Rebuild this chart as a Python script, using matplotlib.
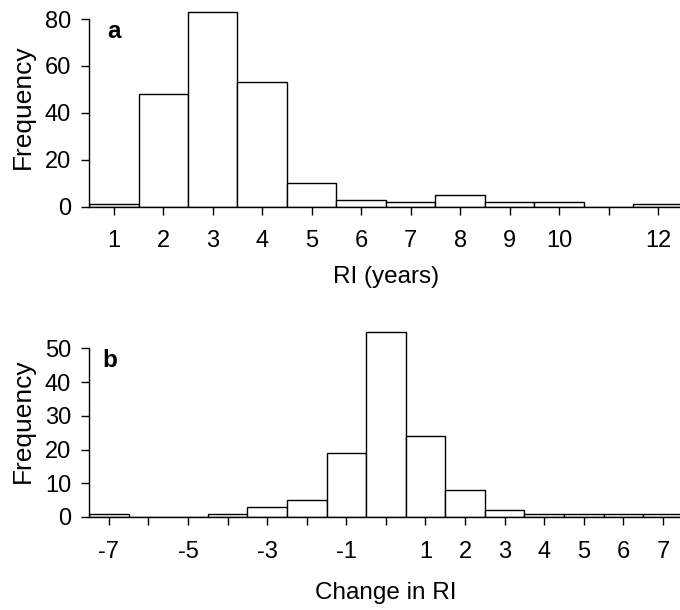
import numpy as np
import matplotlib
matplotlib.use("Agg")
import matplotlib.pyplot as plt

plt.rcParams['font.family'] = ['Liberation Sans', 'DejaVu Sans']

# panel a: recurrence interval histogram
ri_bins = [1, 2, 3, 4, 5, 6, 7, 8, 9, 10, 11, 12]
ri_freq = [1, 48, 83, 53, 10, 3, 2, 5, 2, 2, 0, 1]
ri_ticklabels = ["1", "2", "3", "4", "5", "6", "7", "8", "9", "10", "", "12"]

# panel b: change in RI histogram
chg_bins = [-7, -6, -5, -4, -3, -2, -1, 0, 1, 2, 3, 4, 5, 6, 7]
chg_freq = [1, 0, 0, 1, 3, 5, 19, 55, 24, 8, 2, 1, 1, 1, 1]
chg_ticklabels = ["-7", "", "-5", "", "-3", "", "-1", "", "1", "2", "3", "4", "5", "6", "7"]

FS = 17

fig = plt.figure(figsize=(6.8, 6.1), dpi=100, facecolor='white')
ax1 = fig.add_axes([0.131, 0.661, 0.873, 0.327])
ax2 = fig.add_axes([0.131, 0.1525, 0.873, 0.315])


def style(ax, bins, freq, ticklabels, ymax, ytop, yticks, xlabel, xpad, xlpad, letter, lx, ly):
    ax.bar(bins, freq, width=1.0, color='white', edgecolor='black', linewidth=1.0, zorder=2)
    ax.set_xlim(bins[0] - 0.5, bins[-1] + 0.5)
    ax.set_ylim(0, ytop)
    ax.set_xticks(bins)
    ax.set_xticklabels(ticklabels)
    ax.set_yticks(yticks)
    ax.spines['top'].set_visible(False)
    ax.spines['right'].set_visible(False)
    ax.spines['left'].set_bounds(0, ymax)
    for s in ('left', 'bottom'):
        ax.spines[s].set_linewidth(1.0)
    ax.tick_params(axis='both', direction='out', length=6, width=1.0, labelsize=FS)
    ax.tick_params(axis='x', pad=xpad)
    ax.tick_params(axis='y', pad=7)
    ax.set_ylabel("Frequency", fontsize=19, labelpad=7)
    ax.set_xlabel(xlabel, fontsize=17.5, labelpad=xlpad)
    ax.text(lx, ly, letter, transform=ax.transAxes, fontsize=17.5,
            fontweight='bold', ha='left', va='center')


style(ax1, ri_bins, ri_freq, ri_ticklabels, 80, 85, [0, 20, 40, 60, 80],
      "RI (years)", 10.5, 10, "a", 0.030, 0.879)
style(ax2, chg_bins, chg_freq, chg_ticklabels, 50, 57, [0, 10, 20, 30, 40, 50],
      "Change in RI", 11, 14, "b", 0.022, 0.816)

fig.savefig("out.png", dpi=100, facecolor='white')
